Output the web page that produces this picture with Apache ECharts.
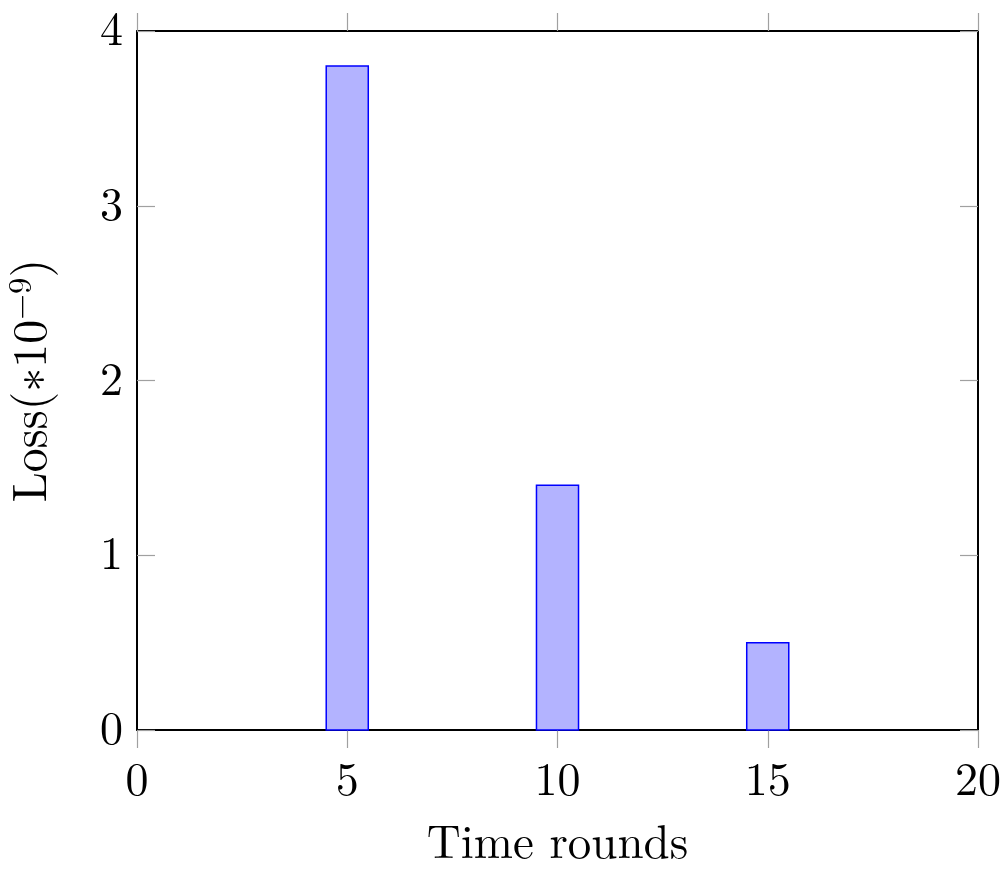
<!DOCTYPE html>
<html>
<head>
<meta charset="utf-8">
<script src="https://cdn.jsdelivr.net/npm/echarts@6/dist/echarts.min.js"></script>
<style>html,body{margin:0;padding:0;background:#fff}#c{width:1008px;height:869px}</style>
</head>
<body>
<div id="c"></div>
<script>
const rounds = [5, 10, 15];
const loss = [3.8, 1.4, 0.5];
const xTicks = [0, 5, 10, 15, 20];
const yTicks = [0, 1, 2, 3, 4];

const font = '"Latin Modern Roman","CMU Serif","Liberation Serif","DejaVu Serif",serif';
const chart = echarts.init(document.getElementById('c'), null, {renderer: 'canvas'});
const tickStyle = {color: '#a0a0a0', width: 1.2};
const lineStyle = {color: '#000', width: 2};
chart.setOption({
  animation: false,
  backgroundColor: '#fff',
  grid: {left: 137, right: 30, top: 31, bottom: 139, containLabel: false, outerBoundsMode: 'none'},
  xAxis: [{
    type: 'value', min: 0, max: 20, interval: 5, position: 'bottom',
    name: 'Time rounds', nameLocation: 'middle', nameGap: 90,
    nameTextStyle: {fontFamily: font, fontSize: 47, color: '#000'},
    axisLine: {show: true, onZero: false, lineStyle: lineStyle},
    axisTick: {show: true, inside: false, length: 18, lineStyle: tickStyle},
    axisLabel: {margin: 28, fontFamily: font, fontSize: 46, color: '#000'},
    splitLine: {show: false}
  }, {
    type: 'value', min: 0, max: 20, interval: 5, position: 'top',
    axisLine: {show: true, onZero: false, lineStyle: lineStyle},
    axisTick: {show: true, inside: false, length: 18, lineStyle: tickStyle},
    axisLabel: {show: false}, splitLine: {show: false}
  }],
  yAxis: [{
    type: 'value', min: 0, max: 4, interval: 1, position: 'left',
    name: '{n|Loss(∗10}{s|−9}{n|)}', nameLocation: 'middle', nameGap: 78,
    nameTextStyle: {fontFamily: font, fontSize: 48, color: '#000',
      rich: {n: {fontFamily: font, fontSize: 48, color: '#000'},
             s: {fontFamily: font, fontSize: 33, color: '#000', verticalAlign: 'top', padding: [0, 0, 22, 0]}}},
    axisLine: {show: true, onZero: false, lineStyle: lineStyle},
    axisTick: {show: true, inside: true, length: 18, lineStyle: tickStyle},
    axisLabel: {margin: 14, fontFamily: font, fontSize: 46, color: '#000'},
    splitLine: {show: false}
  }, {
    type: 'value', min: 0, max: 4, interval: 1, position: 'right',
    axisLine: {show: true, onZero: false, lineStyle: lineStyle},
    axisTick: {show: true, inside: true, length: 18, lineStyle: tickStyle},
    axisLabel: {show: false}, splitLine: {show: false}
  }],
  series: [{
    type: 'custom',
    xAxisIndex: 0, yAxisIndex: 0,
    data: rounds.map((r, i) => [r, loss[i]]),
    renderItem: function (params, api) {
      const p1 = api.coord([api.value(0) - 0.5, api.value(1)]);
      const p2 = api.coord([api.value(0) + 0.5, 0]);
      return {
        type: 'rect',
        shape: {x: p1[0], y: p1[1], width: p2[0] - p1[0], height: p2[1] - p1[1]},
        style: {fill: '#b3b3ff', stroke: '#0000ff', lineWidth: 1.5}
      };
    }
  }]
});
</script>
</body>
</html>
